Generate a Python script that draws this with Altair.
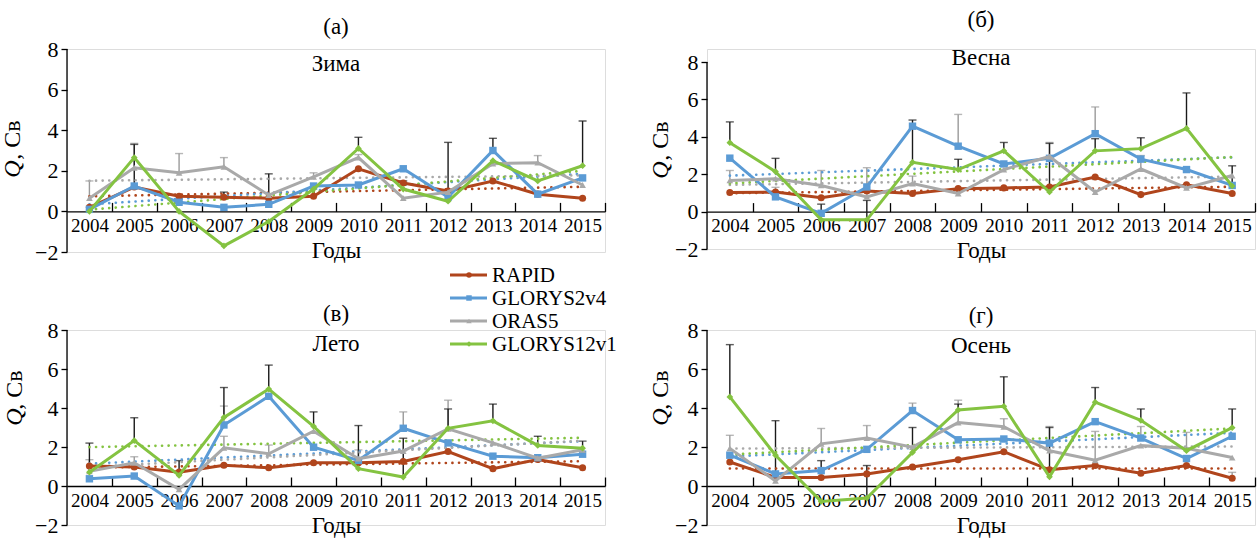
import altair as alt
import pandas as pd

FONT = "Liberation Serif"

YEARS = list(range(2004, 2016))
SERIES = ["RAPID", "GLORYS2v4", "ORAS5", "GLORYS12v1"]
COLORS = ["#B0451C", "#5B9BD5", "#A9A9A9", "#84C341"]
SHAPES = ["circle", "square", "triangle-up", "diamond"]
SIZES = [50, 55, 45, 45]

# ---- (а) Зима
winter_rapid = [0.2, 1.2, 0.75, 0.7, 0.65, 0.75, 2.1, 1.4, 1.0, 1.5, 0.85, 0.65]
winter_glorys2 = [0.1, 1.25, 0.45, 0.2, 0.35, 1.25, 1.3, 2.1, 0.7, 3.0, 0.85, 1.65]
winter_oras5 = [0.65, 2.15, 1.9, 2.2, 0.8, 1.7, 2.65, 0.65, 0.95, 2.35, 2.4, 1.3]
winter_glorys12 = [0.0, 2.65, 0.0, -1.7, -0.5, 1.1, 3.1, 1.1, 0.5, 2.5, 1.5, 2.25]
winter_err_black = [(2005, 1.25, 3.3), (2007, 0.7, 0.95), (2008, 0.8, 1.85), (2010, 3.1, 3.65),
                    (2011, 1.4, 1.5), (2012, 1.0, 3.4), (2013, 3.0, 3.6), (2015, 2.25, 4.45)]
winter_err_grey = [(2004, 0.65, 1.5), (2005, 2.15, 3.35), (2006, 1.9, 2.85), (2007, 2.2, 2.65),
                   (2009, 1.7, 1.9), (2010, 2.65, 2.8), (2014, 2.4, 2.75)]

# ---- (б) Весна
spring_rapid = [1.02, 1.05, 0.74, 1.1, 0.97, 1.23, 1.27, 1.32, 1.85, 0.91, 1.44, 0.97]
spring_glorys2 = [2.86, 0.79, -0.09, 1.32, 4.57, 3.5, 2.55, 2.85, 4.17, 2.81, 2.25, 1.4]
spring_oras5 = [1.67, 1.76, 1.4, 0.79, 1.5, 0.97, 2.25, 2.95, 1.05, 2.28, 1.27, 1.93]
spring_glorys12 = [3.69, 2.14, -0.44, -0.44, 2.64, 2.25, 3.25, 1.05, 3.25, 3.37, 4.45, 1.37]
spring_err_black = [(2004, 3.69, 4.8), (2005, 2.14, 2.85), (2006, -0.09, 0.4), (2007, -0.44, 0.6),
                    (2008, 2.64, 4.9), (2009, 2.25, 2.8), (2010, 3.25, 3.7), (2011, 1.05, 3.65),
                    (2012, 3.25, 3.9), (2013, 3.37, 3.95), (2014, 4.45, 6.35), (2015, 1.37, 2.45)]
spring_err_grey = [(2004, 1.67, 2.2), (2005, 1.05, 1.3), (2006, 1.4, 2.2), (2007, 0.79, 2.35),
                   (2008, 1.5, 1.9), (2009, 3.5, 5.2), (2011, 2.95, 3.7), (2012, 4.17, 5.6),
                   (2013, 2.28, 3.0)]

# ---- (в) Лето
summer_rapid = [1.02, 0.97, 0.71, 1.06, 0.94, 1.19, 1.19, 1.26, 1.77, 0.89, 1.36, 0.94]
summer_glorys2 = [0.37, 0.51, -1.02, 3.13, 4.6, 1.99, 1.31, 2.96, 2.21, 1.53, 1.45, 1.63]
summer_oras5 = [0.75, 1.19, -0.17, 1.96, 1.65, 2.81, 1.4, 1.79, 2.93, 2.21, 1.43, 1.86]
summer_glorys12 = [0.71, 2.33, 0.54, 3.52, 4.97, 3.06, 0.89, 0.46, 2.96, 3.34, 2.08, 1.94]
summer_err_black = [(2004, 0.71, 2.2), (2005, 2.33, 3.5), (2006, 0.54, 1.3), (2007, 3.52, 5.05),
                    (2008, 4.97, 6.2), (2009, 3.06, 3.8), (2010, 0.89, 3.1), (2011, 0.46, 2.45),
                    (2012, 2.96, 3.95), (2013, 3.34, 4.2), (2014, 2.08, 2.55), (2015, 1.94, 2.3)]
summer_err_grey = [(2004, 0.75, 1.35), (2005, 1.19, 1.5), (2007, 1.96, 2.55), (2007, 3.13, 4.1),
                   (2008, 1.65, 2.1), (2010, 1.4, 1.85), (2011, 2.96, 3.8), (2012, 2.93, 4.4)]

# ---- (г) Осень
autumn_rapid = [1.23, 0.44, 0.44, 0.62, 0.97, 1.35, 1.76, 0.83, 1.05, 0.65, 1.05, 0.4]
autumn_glorys2 = [1.58, 0.62, 0.79, 1.88, 3.87, 2.37, 2.41, 2.2, 3.3, 2.46, 1.41, 2.55]
autumn_oras5 = [1.93, 0.26, 2.16, 2.46, 1.99, 3.25, 3.04, 1.81, 1.32, 2.07, 1.93, 1.46]
autumn_glorys12 = [4.57, 1.58, -0.79, -0.62, 1.72, 3.9, 4.09, 0.47, 4.3, 3.37, 1.81, 2.99]
autumn_err_black = [(2004, 4.57, 7.25), (2005, 0.62, 3.35), (2006, 0.79, 1.3), (2007, -0.62, 1.05),
                    (2008, 1.72, 3.0), (2009, 3.9, 4.2), (2010, 4.09, 5.6), (2011, 0.83, 3.0),
                    (2012, 4.3, 5.05), (2013, 3.37, 3.95), (2015, 2.99, 3.95)]
autumn_err_grey = [(2004, 1.93, 2.6), (2006, 2.16, 2.95), (2007, 2.46, 3.1), (2008, 3.87, 4.25),
                   (2009, 3.25, 4.4), (2010, 3.04, 3.45), (2011, 1.81, 3.05), (2012, 1.32, 2.8),
                   (2013, 2.46, 3.05), (2014, 1.93, 2.75), (2015, 0.4, 0.7)]

TICK_BOUNDS = [y + 0.5 for y in YEARS]
ERR_COLORS = {"black": "#1a1a1a", "grey": "#9a9a9a"}


def one_text(txt):
    return alt.Chart(pd.DataFrame({"t": [txt]}))


def make_panel(tag, season, series_vals, err_black, err_grey, width, height, ytop,
               tag_y, season_y, q_x, q_y, rest_y, legend=False):
    df = pd.DataFrame([{"series": s, "year": y, "Q": v}
                       for s, vals in zip(SERIES, series_vals) for y, v in zip(YEARS, vals)])
    xs = alt.Scale(domain=[2003.5, 2015.5], nice=False, zero=False)
    ys = alt.Scale(domain=[-2, ytop], nice=False, zero=False)
    zero_px = height * 2.0 / (ytop + 2.0)
    eight_px = height - height * 10.0 / (ytop + 2.0)

    layers = []
    # y axis line (from -2 to 8)
    layers.append(one_text("").mark_rule(color="black", strokeWidth=1.3).encode(
        x=alt.value(0), y=alt.value(eight_px), y2=alt.value(height)))
    # error bars (first layer also carries the x axis line at Q = 0 with inward ticks)
    first = True
    for kind, bars in (("grey", err_grey), ("black", err_black)):
        err = pd.DataFrame([{"year": y, "low": lo, "high": hi} for y, lo, hi in bars])
        if first:
            xenc = alt.X("year:Q", scale=xs, axis=alt.Axis(
                orient="top", offset=-(height - zero_px), values=TICK_BOUNDS, labels=False,
                ticks=True, tickSize=9, tickColor="black", tickWidth=1.3, domain=True,
                domainColor="black", domainWidth=1.3, grid=False, title=None))
            first = False
        else:
            xenc = alt.X("year:Q", scale=xs, axis=None)
        layers.append(alt.Chart(err).mark_rule(strokeWidth=1.4, color=ERR_COLORS[kind]).encode(
            x=xenc, y=alt.Y("low:Q", scale=ys, axis=None), y2="high:Q"))
        layers.append(alt.Chart(err).mark_tick(orient="horizontal", size=8, thickness=1.4,
                                               color=ERR_COLORS[kind]).encode(
            x=alt.X("year:Q", scale=xs, axis=None), y=alt.Y("high:Q", scale=ys, axis=None)))
    # linear trends
    layers.append(alt.Chart(df).transform_regression("year", "Q", groupby=["series"]).mark_line(
        strokeDash=[0.1, 6.5], strokeCap="round", strokeWidth=2.6).encode(
        x=alt.X("year:Q", scale=xs, axis=None), y=alt.Y("Q:Q", scale=ys, axis=None),
        color=alt.Color("series:N", scale=alt.Scale(domain=SERIES, range=COLORS), legend=None)))
    # series
    for i, s in enumerate(SERIES):
        sub = df[df.series == s]
        if i == 0:
            xenc = alt.X("year:Q", scale=xs, axis=alt.Axis(
                orient="bottom", offset=-zero_px, values=YEARS, format="d", labelFont=FONT,
                labelFontSize=19, labelColor="black", ticks=False, tickSize=0, domain=False,
                grid=False, labelPadding=5, labelFlush=False, labelOverlap=False,
                title="Годы", titleFont=FONT, titleFontSize=23, titleFontWeight="normal",
                titleColor="black", titlePadding=4))
            yenc = alt.Y("Q:Q", scale=ys, axis=alt.Axis(
                orient="left", values=[-2, 0, 2, 4, 6, 8], format="d", domain=False, ticks=True,
                tickSize=6, tickColor="black", tickWidth=1.3, labelFont=FONT, labelFontSize=22,
                labelColor="black", labelPadding=3, grid=False, title=None))
        else:
            xenc = alt.X("year:Q", scale=xs, axis=None)
            yenc = alt.Y("Q:Q", scale=ys, axis=None)
        layers.append(alt.Chart(sub).mark_line(color=COLORS[i], strokeWidth=3).encode(x=xenc, y=yenc))
        layers.append(alt.Chart(sub).mark_point(filled=True, shape=SHAPES[i], size=SIZES[i],
                                                color=COLORS[i], opacity=1).encode(
            x=alt.X("year:Q", scale=xs, axis=None), y=alt.Y("Q:Q", scale=ys, axis=None)))
    # texts
    layers.append(one_text(tag).mark_text(font=FONT, fontSize=23, color="black", baseline="middle").encode(
        text="t:N", x=alt.value(width / 2), y=alt.value(tag_y)))
    layers.append(one_text(season).mark_text(font=FONT, fontSize=23, color="black", baseline="middle").encode(
        text="t:N", x=alt.value(width / 2), y=alt.value(season_y)))
    layers.append(one_text("Q").mark_text(font=FONT, fontSize=24, fontStyle="italic", color="black",
                                          angle=270, baseline="middle").encode(
        text="t:N", x=alt.value(q_x), y=alt.value(q_y)))
    layers.append(one_text(", Св").mark_text(font=FONT, fontSize=24, color="black",
                                             angle=270, baseline="middle").encode(
        text="t:N", x=alt.value(q_x), y=alt.value(rest_y)))
    if legend:
        rows = [-55, -32, -9, 14]
        for i, s in enumerate(SERIES):
            layers.append(one_text(s).mark_rule(color=COLORS[i], strokeWidth=3).encode(
                x=alt.value(383), x2=alt.value(420), y=alt.value(rows[i])))
            layers.append(one_text(s).mark_point(filled=True, shape=SHAPES[i], size=30,
                                                 color=COLORS[i], opacity=1).encode(
                x=alt.value(402), y=alt.value(rows[i])))
            layers.append(one_text(s).mark_text(font=FONT, fontSize=21, color="black", align="left",
                                                baseline="middle").encode(
                text="t:N", x=alt.value(425), y=alt.value(rows[i] + 1)))
    return alt.layer(*layers).resolve_axis(x="independent", y="independent").properties(
        width=width, height=height)


pa = make_panel("(а)", "Зима", [winter_rapid, winter_glorys2, winter_oras5, winter_glorys12],
                winter_err_black, winter_err_grey, 538, 203, 8, -22, 15, -54, 120, 91)
pb = make_panel("(б)", "Весна", [spring_rapid, spring_glorys2, spring_oras5, spring_glorys12],
                spring_err_black, spring_err_grey, 548, 200, 8.7, -29, 9, -46, 121, 92)
pc = make_panel("(в)", "Лето", [summer_rapid, summer_glorys2, summer_oras5, summer_glorys12],
                summer_err_black, summer_err_grey, 538, 195, 8, -16, 14, -52, 87, 60, legend=True)
pd_ = make_panel("(г)", "Осень", [autumn_rapid, autumn_glorys2, autumn_oras5, autumn_glorys12],
                 autumn_err_black, autumn_err_grey, 548, 195, 8, -14, 16, -46, 87, 60)

chart = alt.concat(pa, pb, pc, pd_, columns=2, spacing={"row": 78, "column": 102},
                   bounds="flush").properties(
    padding={"left": 0, "top": 8, "right": 0, "bottom": 0}
).configure_view(stroke=None).configure(background="white")

chart.save("out.html", embed_options={"renderer": "svg", "actions": False})
